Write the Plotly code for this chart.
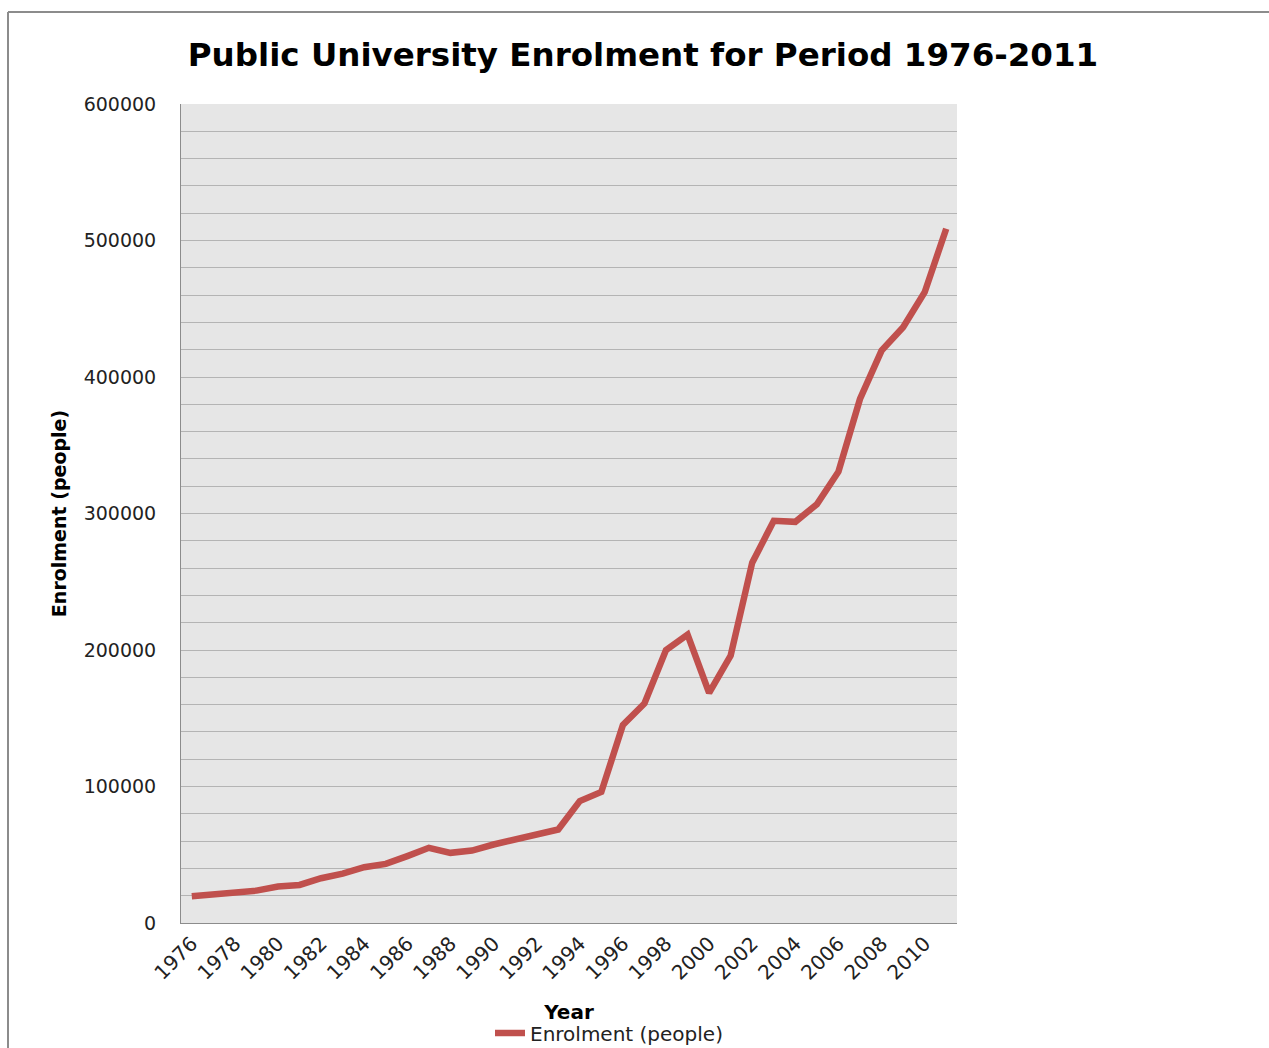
import plotly.graph_objects as go

years = list(range(1976, 2012))
enrolment = [19600, 21000, 21800, 23700, 26700, 27900, 32800, 36200, 40900, 43300,
             49000, 55100, 51400, 53100, 57500, 61200, 65600, 68500, 89300, 96000,
             145000, 160800, 200000, 211200, 168600, 195900, 264000, 294600, 293900, 306800,
             330600, 383900, 419300, 436400, 462100, 508600]

title_text = "Public University Enrolment for Period 1976-2011"
x_title = "Year"
y_title = "Enrolment (people)"
series_name = "Enrolment (people)"

W, H = 1269, 1048
L, R, T, B = 181, 957, 104, 923
pw, ph = R - L, B - T

def px(x):
    return (x - L) / pw

def py(y):
    return (B - y) / ph

FONT = "DejaVu Sans"

fig = go.Figure()
fig.add_trace(go.Scatter(
    x=years, y=enrolment, mode="lines", name=series_name,
    line=dict(color="#C0504D", width=6.5),
))

fig.update_layout(
    width=W, height=H,
    margin=dict(l=L, r=W - R, t=T, b=H - B, autoexpand=False),
    paper_bgcolor="white",
    plot_bgcolor="#E6E6E6",
    font=dict(family=FONT, color="#222222", size=19),
    title=dict(text=title_text, x=643 / W, xref="container", xanchor="center",
               y=1 - 55 / H, yref="container", yanchor="middle",
               font=dict(family=FONT, size=32.5, color="#000000", weight="bold")),
    showlegend=True,
    legend=dict(orientation="h", x=px(490), xanchor="left", y=py(1033), yanchor="middle",
                font=dict(family=FONT, size=20, color="#222222"),
                bgcolor="rgba(0,0,0,0)"),
    xaxis=dict(
        range=[1975.5, 2011.5], tickmode="linear", tick0=1976, dtick=2,
        tickangle=-45, showgrid=False, zeroline=False,
        showline=True, linecolor="#8C8C8C", linewidth=1,
        tickfont=dict(family=FONT, size=20, color="#222222"),
        title=dict(text=x_title, standoff=21,
                   font=dict(family=FONT, size=20, color="#000000", weight="bold")),
    ),
    yaxis=dict(
        range=[0, 600000], tickmode="linear", tick0=0, dtick=100000,
        showgrid=True, gridcolor="#B4B4B4", gridwidth=1,
        minor=dict(dtick=20000, showgrid=True, gridcolor="#B4B4B4", gridwidth=1),
        zeroline=False, showline=True, linecolor="#8C8C8C", linewidth=1,
        ticklabelstandoff=20, tickformat="d",
        tickfont=dict(family=FONT, size=19, color="#222222"),
        title=dict(text=y_title, standoff=12,
                   font=dict(family=FONT, size=19, color="#000000", weight="bold")),
    ),
    shapes=[
        dict(type="line", xref="paper", yref="paper", x0=px(8), x1=px(1272), y0=py(12), y1=py(12),
             line=dict(color="#8C8C8C", width=2)),
        dict(type="line", xref="paper", yref="paper", x0=px(8), x1=px(8), y0=py(12), y1=py(1052),
             line=dict(color="#8C8C8C", width=2)),
    ],
)

fig.write_html("out.html")
